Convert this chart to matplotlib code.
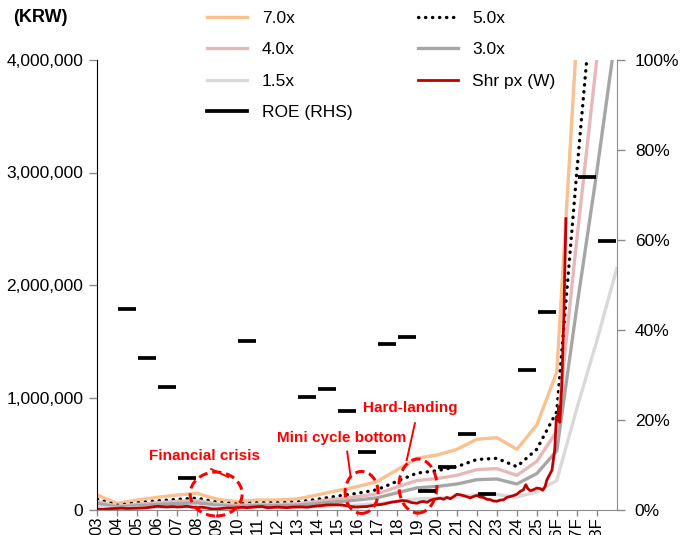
import matplotlib.pyplot as plt
import matplotlib.transforms as mtransforms
import numpy as np
from matplotlib.lines import Line2D
from matplotlib.patches import Ellipse
from matplotlib.ticker import FuncFormatter

plt.rcParams['font.family'] = ['Liberation Sans', 'DejaVu Sans']
plt.rcParams['font.size'] = 12.5

# year-start points of the P/B band (2003 .. 2029)
band_years = np.arange(2003, 2030)
bps = np.array([19.0, 8.4, 12.7, 16.1, 19.0, 21.1, 13.6, 10.6, 12.7, 12.7,
                14.0, 19.0, 24.6, 29.6, 36.0, 50.9, 65.6, 69.8, 77.0, 89.8,
                91.9, 77.0, 108.0, 175.0, 600.0, 1000.0, 1430.0]) * 1000

# annual ROE (%), one dash per year 2003 .. 2028
roe_years = np.arange(2003, 2029)
roe = np.array([np.nan, 44.7, 33.8, 27.3, 7.1, np.nan, np.nan, 37.6, np.nan,
                np.nan, 25.1, 26.9, 22.0, 12.9, 36.9, 38.4, 4.2, 9.6, 16.9,
                3.6, np.nan, 31.1, 44.0, np.nan, 74.1, 59.7])

# share price (KRW '000)
px_t = [2003.0, 2003.25, 2003.5, 2003.75, 2004.0, 2004.25, 2004.5, 2004.75,
        2005.0, 2005.25, 2005.5, 2005.75, 2006.0, 2006.25, 2006.5, 2006.75,
        2007.0, 2007.25, 2007.5, 2007.75, 2008.0, 2008.25, 2008.5, 2008.75,
        2009.0, 2009.25, 2009.5, 2009.75, 2010.0, 2010.25, 2010.5, 2010.75,
        2011.0, 2011.25, 2011.5, 2011.75, 2012.0, 2012.25, 2012.5, 2012.75,
        2013.0, 2013.25, 2013.5, 2013.75, 2014.0, 2014.25, 2014.5, 2014.75,
        2015.0, 2015.25, 2015.5, 2015.75, 2016.0, 2016.25, 2016.5, 2016.75,
        2017.0, 2017.25, 2017.5, 2017.75, 2018.0, 2018.25, 2018.5, 2018.75,
        2019.0, 2019.17, 2019.33, 2019.5, 2019.67, 2019.83,
        2020.0, 2020.17, 2020.33, 2020.5, 2020.67, 2020.83,
        2021.0, 2021.17, 2021.33, 2021.5, 2021.67, 2021.83,
        2022.0, 2022.17, 2022.33, 2022.5, 2022.67, 2022.83,
        2023.0, 2023.17, 2023.33, 2023.5, 2023.67, 2023.83,
        2024.0, 2024.17, 2024.33, 2024.45, 2024.55, 2024.67, 2024.83,
        2025.0, 2025.17, 2025.3, 2025.42, 2025.5, 2025.6, 2025.76, 2025.9, 2025.98,
        2026.05, 2026.1, 2026.15, 2026.25, 2026.35, 2026.46]
px_k = [7, 5, 9, 13, 14, 17, 13, 15,
        16, 18, 21, 27, 33, 30, 27, 31,
        27, 29, 33, 25, 21, 25, 17, 8,
        9, 14, 19, 18, 21, 24, 21, 25,
        29, 31, 21, 23, 26, 24, 21, 26,
        27, 28, 25, 31, 36, 40, 45, 46,
        47, 45, 37, 30, 26, 29, 31, 39,
        46, 50, 60, 70, 76, 84, 80, 65,
        60, 72, 76, 68, 85, 95,
        100, 105, 95, 112, 100, 118,
        140, 135, 128, 118, 108, 120,
        130, 115, 112, 95, 92, 80,
        78, 88, 90, 112, 120, 128,
        140, 165, 180, 225, 190, 172, 180,
        195, 190, 175, 210, 265, 300, 355, 540, 830,
        800, 920, 780, 1100, 1700, 2590]

bands = [
    (7.0, '7.0x', dict(color='#FAC090', lw=2.4)),
    (5.0, '5.0x', dict(color='black', lw=2.4, linestyle=(0, (0.1, 2.0)),
                       dash_capstyle='round')),
    (4.0, '4.0x', dict(color='#E6B9B8', lw=2.4)),
    (3.0, '3.0x', dict(color='#A6A6A6', lw=2.4)),
    (1.5, '1.5x', dict(color='#D9D9D9', lw=2.4)),
]

fig = plt.figure(figsize=(6.82, 5.35), dpi=100)
ax = fig.add_axes([97.3 / 682, 1 - 510 / 535, 519.4 / 682, 450 / 535])
ax2 = ax.twinx()

handles = {}
for mult, name, style in bands:
    handles[name], = ax.plot(band_years, bps * mult, label=name, **style)

handles['Shr px (W)'], = ax.plot(px_t, np.array(px_k) * 1000, color='#C00000',
                                 lw=2.0, label='Shr px (W)')

ax2.hlines(roe, roe_years + 0.06, roe_years + 0.96, color='black', lw=2.7)
handles['ROE (RHS)'] = Line2D([], [], color='black', lw=2.7)

ax.set_xlim(2003, 2029)
ax.set_ylim(0, 4_000_000)
ax2.set_ylim(0, 100)

ax.set_yticks(np.arange(0, 4_000_001, 1_000_000))
ax.yaxis.set_major_formatter(FuncFormatter(lambda v, p: f'{v:,.0f}'))
ax2.set_yticks(np.arange(0, 101, 20))
ax2.yaxis.set_major_formatter(FuncFormatter(lambda v, p: f'{v:.0f}%'))

tick_years = roe_years
tick_labels = [f'{y % 100:02d}' if y <= 2025 else f'{y % 100}F' for y in tick_years]
ax.set_xticks(tick_years)
ax.set_xticklabels(tick_labels, rotation=90, fontsize=12)
shift = mtransforms.ScaledTranslation(3.5 / 100, 0, fig.dpi_scale_trans)
for lbl in ax.get_xticklabels():
    lbl.set_transform(lbl.get_transform() + shift)

grey = '#8C8C8C'
ax.tick_params(axis='x', direction='out', length=4, width=1, color=grey, pad=1)
ax.tick_params(axis='y', direction='out', length=6, width=1, color=grey, pad=4)
ax2.tick_params(axis='y', direction='out', length=6, width=1, color=grey, pad=7)

for side in ['top', 'right']:
    ax.spines[side].set_visible(False)
for side in ['top', 'left', 'bottom']:
    ax2.spines[side].set_visible(False)
ax.spines['left'].set_color('black')
ax.spines['bottom'].set_color(grey)
ax2.spines['right'].set_color(grey)

# event call-outs
red = '#FF0000'
callouts = [
    ('Financial crisis', (2008.39, 480_000), (2008.95, 142_000), 2.6, 391_000,
     [(2008.70, 2009.55), (364_000, 293_000)]),
    ('Mini cycle bottom', (2015.23, 637_000), (2016.23, 156_000), 1.65, 373_000,
     [(2015.51, 2015.68), (518_000, 296_000)]),
    ('Hard-landing', (2018.65, 907_000), (2019.05, 213_000), 1.9, 480_000,
     [(2018.90, 2018.49), (771_000, 444_000)]),
]
for text, tpos, centre, w, h, seg in callouts:
    ax2.text(*tpos, text, transform=ax.transData, color=red, fontweight='bold',
             fontsize=11, ha='center', va='center')
    ax2.add_patch(Ellipse(centre, w, h, transform=ax.transData, fill=False,
                          edgecolor=red, lw=2.2, linestyle=(0, (3, 1.6)),
                          clip_on=False))
    ax2.plot(seg[0], seg[1], transform=ax.transData, color=red, lw=1.4,
             clip_on=False)

order = ['7.0x', '4.0x', '1.5x', 'ROE (RHS)', '5.0x', '3.0x', 'Shr px (W)']
fig.legend([handles[k] for k in order], order, loc='upper left',
           bbox_to_anchor=(207 / 682, 1 - 11 / 535), ncol=2, frameon=False,
           handlelength=2.3, handletextpad=0.86, columnspacing=3.75,
           labelspacing=0.93, borderaxespad=0, borderpad=0)

fig.text(13 / 682, 1 - 18 / 535, '(KRW)', fontweight='bold', fontsize=13,
         ha='left', va='center')

fig.savefig('out.png', dpi=100)
